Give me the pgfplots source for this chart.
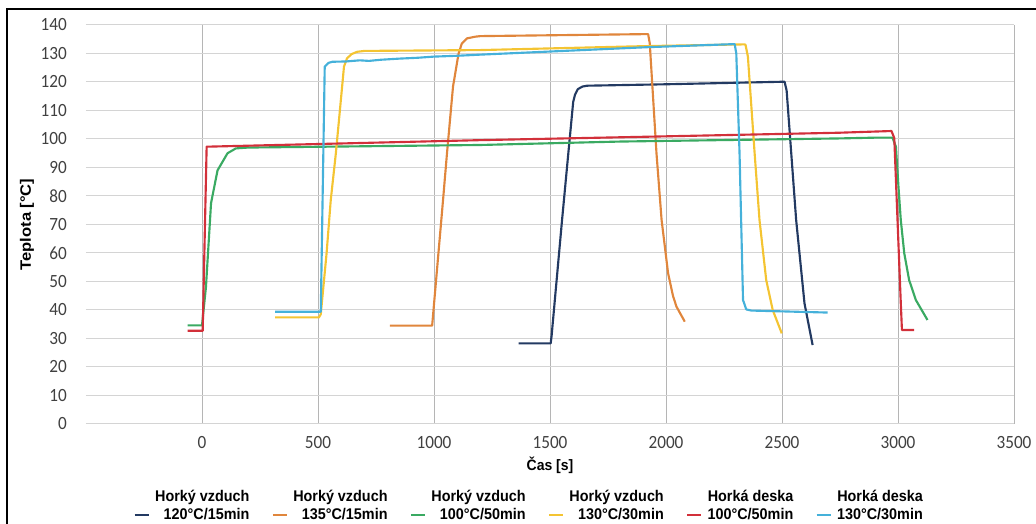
\documentclass[border=0pt]{standalone}
\usepackage{fontspec}
\setmainfont{Carlito}
\newfontfamily\tickf{Carlito}[FakeStretch=0.92]
\newfontfamily\arialf{Liberation Sans}[FakeStretch=0.93]
\newfontfamily\ylabf{Liberation Sans}[FakeStretch=1.1]
\usepackage{pgfplots}
\pgfplotsset{compat=1.18}
\definecolor{cnavy}{HTML}{233A62}
\definecolor{corange}{HTML}{E0863C}
\definecolor{cgreen}{HTML}{3AAA62}
\definecolor{cyellow}{HTML}{F4C432}
\definecolor{cred}{HTML}{D2303A}
\definecolor{ccyan}{HTML}{45B1DA}
\definecolor{gridh}{HTML}{D4D4D4}
\definecolor{gridv}{HTML}{B5B5B5}
\definecolor{tickc}{HTML}{404040}
\begin{document}
\begin{tikzpicture}
\begin{axis}[
  at={(0,0)}, anchor=south west,
  width=696pt, height=299.25pt, scale only axis,
  xmin=-500, xmax=3500, ymin=0, ymax=140,
  xtick={0,500,...,3500}, ytick={0,10,...,140},
  axis line style={draw=none},
  major tick length=0pt,
  xmajorgrids, ymajorgrids,
  x grid style={color=gridv, line width=0.75pt},
  y grid style={color=gridh, line width=0.75pt},
  tick label style={font=\tickf\fontsize{14}{16}\selectfont, color=tickc},
  /pgf/number format/assume math mode=true,
  /pgf/number format/1000 sep={},
  xticklabel style={anchor=north, inner sep=0pt, yshift=-9pt},
  yticklabel style={anchor=east, inner sep=0pt, xshift=-14.25pt},
  xlabel={Čas [s]},
  ylabel={Teplota [°C]},
  xlabel style={font=\arialf\bfseries\fontsize{11.3}{13}\selectfont, at={(axis description cs:0.5,-0.0827)}, anchor=north, inner sep=0pt},
  ylabel style={font=\ylabf\bfseries\fontsize{11.3}{13}\selectfont, at={(axis description cs:-0.0636,0.5)}, anchor=center, inner sep=0pt},
  legend columns=6,
  legend cell align=right,
  legend image code/.code={\draw[#1] (0pt,3.5pt) -- (10.5pt,3.5pt);},
  legend style={at={(axis description cs:0.478,-0.149)}, anchor=north, draw=none, fill=none,
    font=\arialf\bfseries\fontsize{11.6}{13.5}\selectfont,
    cells={anchor=base east, inner sep=1pt},
    /tikz/every odd column/.append style={column sep=2pt},
    /tikz/every even column/.append style={column sep=14.75pt}},
  every axis plot/.append style={line width=1.6pt, line join=round, no markers},
]
\addplot[cnavy] coordinates {(1365,28.3) (1503,28.3) (1507,31) (1552,71.6) (1579,95) (1600,113) (1608,115.6) (1620,117.5) (1640,118.4) (1660,118.7) (2000,119.2) (2511,120.1) (2520,117) (2561,71.6) (2597,42.3) (2632,27.7)};
\addlegendentry{\begin{tabular}[b]{@{}r@{}}Horký vzduch\\120°C/15min\end{tabular}}
\addplot[corange] coordinates {(810,34.5) (992,34.5) (1039,78.6) (1056,95) (1082,118.4) (1106,130) (1120,133.5) (1142,135.3) (1178,135.9) (1200,136.1) (1916,136.8) (1923,136.8) (1930,133.6) (1959,95) (1981,71.6) (2009,52.9) (2030,45) (2045,41.2) (2081,35.9)};
\addlegendentry{\begin{tabular}[b]{@{}r@{}}Horký vzduch\\135°C/15min\end{tabular}}
\addplot[cgreen] coordinates {(-62,34.6) (0,34.6) (17,48) (39,77.5) (67,89) (110,95) (146,96.7) (200,97) (1200,97.9) (1801,99.1) (2747,100.2) (2919,100.5) (2976,100.5) (2991,97.3) (3002,83.3) (3012,71.6) (3027,59.9) (3048,50.5) (3077,43.5) (3127,36.5)};
\addlegendentry{\begin{tabular}[b]{@{}r@{}}Horký vzduch\\100°C/50min\end{tabular}}
\addplot[cyellow] coordinates {(315,37.4) (504,37.4) (512,38.5) (537,59.9) (555,78.6) (577,95) (604,118.4) (612,125.4) (625,128.3) (645,129.8) (669,130.6) (700,130.9) (1200,131.2) (1916,132.6) (2339,133.2) (2343,133) (2353,128.9) (2382,95) (2403,71.6) (2432,50.5) (2460,40) (2499,31.8)};
\addlegendentry{\begin{tabular}[b]{@{}r@{}}Horký vzduch\\130°C/30min\end{tabular}}
\addplot[cred] coordinates {(-62,32.7) (3,32.7) (20,97.3) (1200,99.6) (1801,100.6) (2747,102.2) (2972,102.8) (2984,100.3) (3012,42.5) (3017,33) (3070,33)};
\addlegendentry{\begin{tabular}[b]{@{}r@{}}Horká deska\\100°C/50min\end{tabular}}
\addplot[ccyan] coordinates {(315,39.4) (512,39.4) (529,125.4) (545,126.7) (562,127.1) (620,127.2) (680,127.6) (720,127.4) (770,127.8) (850,128.2) (930,128.5) (998,128.9) (1100,129.2) (1200,129.6) (1916,132.2) (2296,133.3) (2303,130) (2317,95) (2332,43.5) (2346,40.2) (2368,39.8) (2697,39.1)};
\addlegendentry{\begin{tabular}[b]{@{}r@{}}Horká deska\\130°C/30min\end{tabular}}
\end{axis}
\draw[line width=1.5pt] (-59.25pt,-75pt) -- (-59.25pt,311.25pt) -- (712.5pt,311.25pt);
\pgfresetboundingbox
\path[use as bounding box] (-64.5pt,-75pt) rectangle (712.5pt,318pt);
\end{tikzpicture}
\end{document}
